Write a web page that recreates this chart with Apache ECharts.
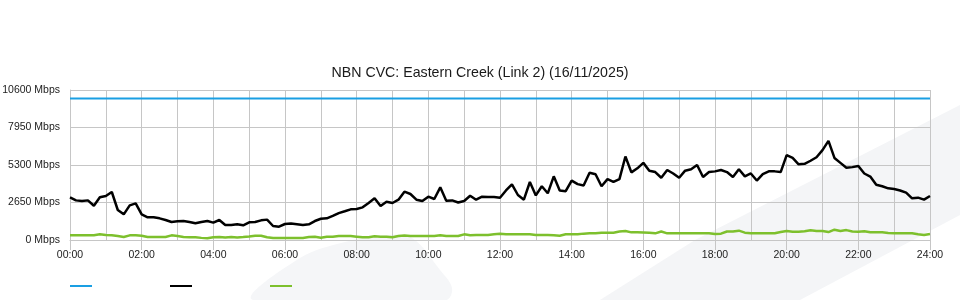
<!DOCTYPE html>
<html>
<head>
<meta charset="utf-8">
<script src="https://cdn.jsdelivr.net/npm/echarts@6/dist/echarts.min.js"></script>
<style>html,body{margin:0;padding:0;background:#fff;}#c{width:960px;height:300px;}</style>
</head>
<body>
<div id="c"></div>
<script>
const titleText = 'NBN CVC: Eastern Creek (Link 2) (16/11/2025)';
const yTicks = [0, 2650, 5300, 7950, 10600];
const seriesNames = ['Capacity', 'Download', 'Upload'];
// sample times, every 10 minutes from 00:00 to 24:00 (hours)
const times = Array.from({length: 145}, (_, i) => i / 6);
const capacity = [[0, 10000], [24, 10000]];
const download = [
  3017, 2800, 2756, 2800, 2420, 3017, 3110, 3392, 2120, 1814, 2449, 2591, 1814, 1601, 1601, 1531, 1413, 1272, 1319, 1343, 1272, 1178, 1272, 1343, 1225,
  1413, 1060, 1060, 1107, 1036, 1250, 1272, 1390, 1440, 990, 942, 1131, 1160, 1110, 1060, 1110, 1340, 1500, 1530, 1700, 1900, 2030, 2167, 2190,
  2308, 2620, 2944, 2400, 2700, 2614, 2850, 3415, 3250, 2850, 2750, 3063, 2900, 3722, 2780, 2800, 2650, 2760, 3130, 2850, 3063, 3040, 3040, 2990,
  3500, 3930, 3180, 2850, 4099, 3150, 3800, 3300, 4500, 3500, 3450, 4200, 3950, 3850, 4750, 4650, 3800, 4300, 4100, 4300, 5900, 4780, 5065, 5450,
  4900, 4800, 4400, 4950, 4700, 4400, 4900, 5000, 5300, 4450, 4800, 4850, 4950, 4800, 4450, 5000, 4500, 4700, 4200, 4650, 4850, 4850, 4800, 6000,
  5800, 5350, 5380, 5600, 5850, 6350, 7000, 5800, 5450, 5100, 5150, 5230, 4700, 4480, 3900, 3800, 3650, 3600, 3500, 3350, 2944, 2991, 2850, 3110
];
const upload = [
  332, 332, 332, 332, 340, 400, 360, 330, 280, 212, 330, 330, 300, 212, 212, 212, 212, 330, 280, 212, 188, 188, 150, 118, 188,
  212, 180, 212, 180, 212, 250, 306, 306, 200, 141, 141, 141, 141, 141, 141, 212, 236, 165, 236, 236, 283, 283, 283, 236,
  188, 188, 260, 236, 236, 200, 283, 320, 283, 283, 283, 283, 283, 330, 283, 283, 283, 400, 330, 353, 353, 353, 400, 447,
  400, 400, 400, 400, 400, 353, 353, 353, 330, 306, 400, 400, 400, 450, 471, 471, 518, 518, 518, 600, 636, 540, 540, 530,
  518, 471, 600, 471, 471, 471, 471, 471, 471, 471, 471, 420, 450, 600, 600, 659, 520, 471, 471, 471, 471, 471, 560, 636,
  589, 589, 620, 690, 636, 636, 560, 730, 636, 700, 600, 589, 620, 542, 542, 542, 500, 471, 471, 471, 471, 400, 360, 424
];

const pair = (vals) => vals.map((v, i) => [times[i], v]);
const pad = (n) => (n < 10 ? '0' : '') + n;
const font = 'Liberation Sans, Arial, sans-serif';
const gridColor = '#c6c6c6';

const chart = echarts.init(document.getElementById('c'), null, {renderer: 'canvas'});
chart.setOption({
  animation: false,
  backgroundColor: '#ffffff',
  title: {
    text: titleText, left: 'center', top: 61,
    textStyle: {fontFamily: font, fontSize: 14.2, fontWeight: 'normal', color: '#1a1a1a'}
  },
  graphic: [
    {type: 'polygon', z: -10, silent: true,
     shape: {points: [[600, 300], [695, 240], [960, 105], [960, 215], [800, 300]]},
     style: {fill: '#f4f5f7'}},
    {type: 'polygon', z: -10, silent: true,
     shape: {smooth: 0.35, points: [[253, 300], [300, 258], [345, 242], [385, 235], [412, 238], [440, 270], [452, 288], [446, 300]]},
     style: {fill: '#f5f6f8'}}
  ],
  legend: {
    left: 65, top: 280, itemWidth: 22, itemHeight: 2, itemGap: 78, icon: 'rect',
    formatter: () => '', selectedMode: false,
    data: seriesNames
  },
  grid: {left: 70, right: 30, top: 90, bottom: 60, containLabel: false, outerBoundsMode: 'none'},
  xAxis: {
    type: 'value', min: 0, max: 24, interval: 2,
    axisLine: {show: true, lineStyle: {color: gridColor}},
    axisTick: {show: true, length: 10, lineStyle: {color: gridColor}},
    axisLabel: {fontFamily: font, fontSize: 10.5, color: '#222', margin: 10,
      formatter: (v) => pad(v) + ':00'},
    splitLine: {show: true, lineStyle: {color: gridColor, width: 1}},
    minorTick: {show: false, splitNumber: 2},
    minorSplitLine: {show: true, lineStyle: {color: gridColor, width: 1}}
  },
  yAxis: {
    type: 'value', min: 0, max: 10600, interval: 2650,
    axisLine: {show: true, lineStyle: {color: gridColor}},
    axisTick: {show: false},
    axisLabel: {fontFamily: font, fontSize: 10.5, color: '#222', margin: 10,
      padding: [0, 0, 4, 0],
      formatter: (v) => v + ' Mbps'},
    splitLine: {show: true, lineStyle: {color: gridColor, width: 1}}
  },
  series: [
    {name: seriesNames[0], type: 'line', data: capacity, showSymbol: false,
     color: '#1a9fe3', lineStyle: {width: 2, color: '#1a9fe3'}, z: 3},
    {name: seriesNames[1], type: 'line', data: pair(download), showSymbol: false,
     color: '#000000', lineStyle: {width: 2.5, color: '#000000'}, z: 4},
    {name: seriesNames[2], type: 'line', data: pair(upload), showSymbol: false,
     color: '#7dc02d', lineStyle: {width: 2.5, color: '#7dc02d'}, z: 3}
  ]
});
</script>
</body>
</html>
